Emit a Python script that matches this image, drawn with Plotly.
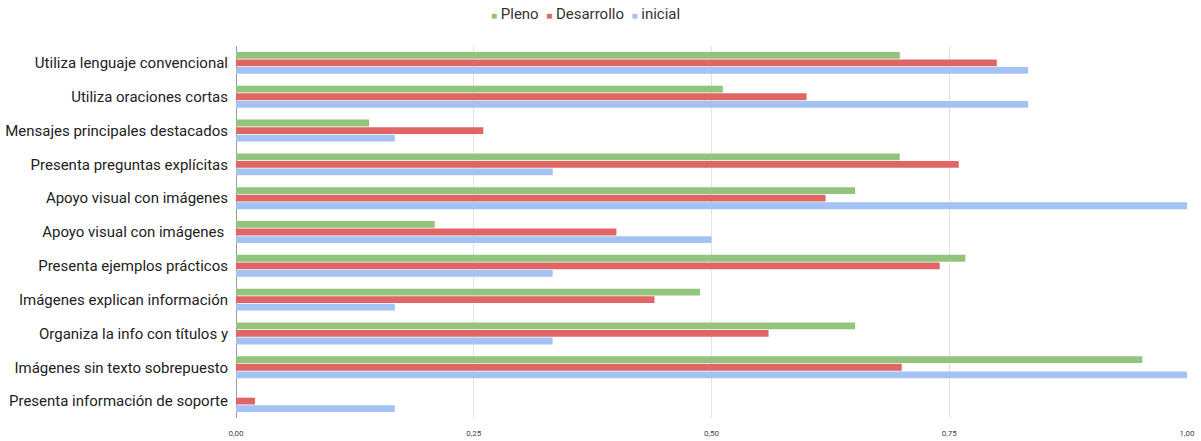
import plotly.graph_objects as go

# Indicators, listed top to bottom
categories = [
    "Utiliza lenguaje convencional",
    "Utiliza oraciones cortas",
    "Mensajes principales destacados",
    "Presenta preguntas explícitas",
    "Apoyo visual con imágenes",
    "Apoyo visual con imágenes ",
    "Presenta ejemplos prácticos",
    "Imágenes explican información",
    "Organiza la info con títulos y",
    "Imágenes sin texto sobrepuesto",
    "Presenta información de soporte",
]

pleno = [0.698, 0.512, 0.140, 0.698, 0.651, 0.209, 0.767, 0.488, 0.651, 0.953, 0.0]
desarrollo = [0.80, 0.60, 0.26, 0.76, 0.62, 0.40, 0.74, 0.44, 0.56, 0.70, 0.02]
inicial = [0.833, 0.833, 0.167, 0.333, 1.0, 0.5, 0.333, 0.167, 0.333, 1.0, 0.167]

x_ticks = [0, 0.25, 0.5, 0.75, 1.0]

series = [
    ("Pleno", pleno, "#93c47d"),
    ("Desarrollo", desarrollo, "#e06666"),
    ("inicial", inicial, "#a4c2f4"),
]

fig = go.Figure()
for name, vals, color in series:
    fig.add_trace(go.Bar(
        y=categories, x=vals, name=name, orientation="h",
        marker=dict(color=color, line=dict(width=0)),
        showlegend=False,
    ))

# compact legend line: small coloured square keys followed by the series name
legend_text = "&nbsp;&nbsp;".join(
    f'<span style="color:{color};font-size:10px">■</span>&nbsp;{name}'
    for name, _, color in series
)
fig.add_annotation(
    text=legend_text, showarrow=False,
    xref="paper", yref="paper", x=0.368, y=1.086,
    xanchor="center", yanchor="middle",
    font=dict(size=15, color="#333333"),
)

fig.update_layout(
    width=1201, height=441,
    margin=dict(l=236, r=14, t=46, b=23, autoexpand=False),
    paper_bgcolor="white", plot_bgcolor="white",
    barmode="group", bargap=0.33, bargroupgap=0.1,
    separators=",.",
    showlegend=False,
    font=dict(family="Roboto, Arial, sans-serif", color="#222222"),
    xaxis=dict(
        range=[0, 1.0], tickvals=x_ticks, tickformat=".2f",
        showgrid=True, gridcolor="#e3e3e3", gridwidth=1,
        zeroline=True, zerolinecolor="#9a9a9a", zerolinewidth=1,
        ticks="outside", ticklen=7, tickcolor="rgba(0,0,0,0)",
        tickfont=dict(size=8, color="#444444"),
        showline=False, automargin=False,
    ),
    yaxis=dict(
        autorange="reversed", type="category",
        tickfont=dict(size=15, color="#222222"),
        ticks="outside", ticklen=4, tickcolor="rgba(0,0,0,0)",
        showgrid=False, zeroline=False, automargin=False,
    ),
)

fig.write_html("out.html")
